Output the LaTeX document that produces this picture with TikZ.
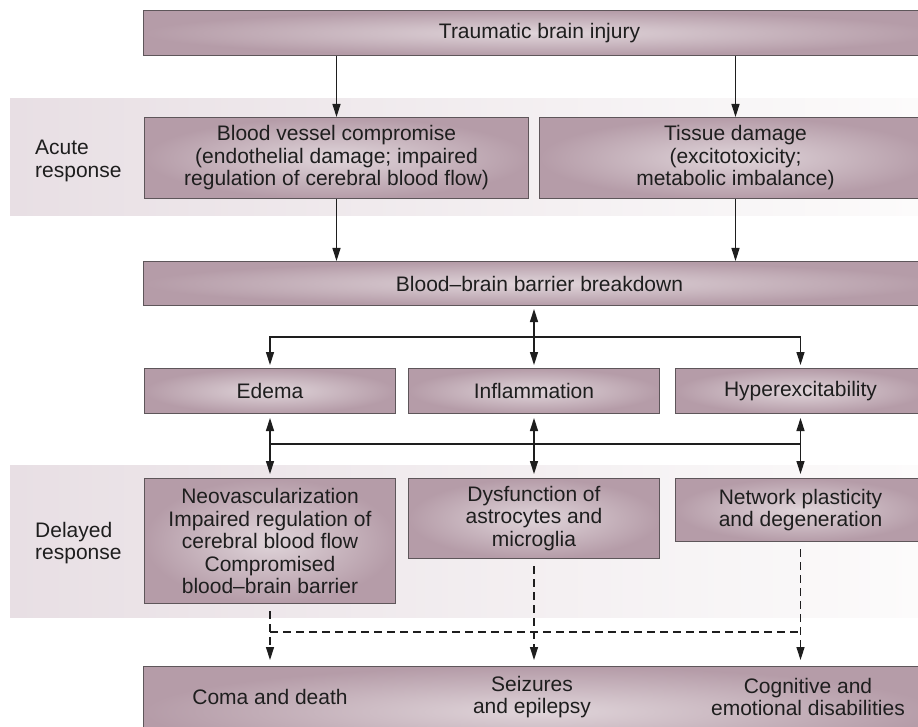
\documentclass[tikz,border=0pt]{standalone}
\usepackage{fontspec}
\setmainfont{Liberation Sans}
\usepackage{tikz}
\usetikzlibrary{arrows.meta}
\definecolor{boxin}{HTML}{E0D5DA}
\definecolor{boxout}{HTML}{B59CA8}
\definecolor{boxline}{HTML}{5E565A}
\definecolor{bandl}{HTML}{E8DFE4}
\definecolor{bandr}{HTML}{FCFBFB}
\definecolor{linec}{HTML}{1E1E1E}
\newcommand\fs{\fontsize{21}{22.5}\selectfont}

\begin{document}
\begin{tikzpicture}[x=1pt,y=-1pt]
      \tikzstyle{box}=[draw=boxline,line width=1pt,inner color=boxin,outer color=boxout,anchor=north west,inner sep=0pt,align=center,font=\fs,text=linec]
      \tikzstyle{lbl}=[anchor=west,align=left,inner sep=0pt,font=\fs,text=linec]
      \tikzstyle{txt}=[align=center,inner sep=0pt,font=\fs,text=linec]
      \tikzstyle{line}=[line width=1.4pt,draw=linec]
      \tikzstyle{arr}=[line,-{Triangle[length=13pt,width=8pt]}]
      \tikzstyle{dbl}=[line,{Triangle[length=13pt,width=8pt]}-{Triangle[length=13pt,width=8pt]},shorten <=4pt,shorten >=4pt]
      \tikzstyle{dsh}=[line,dash pattern=on 8pt off 5pt]

      \useasboundingbox (0,0) rectangle (918,727);
      \fill[white] (0,0) rectangle (918,727);

      \begin{scope}
        \shade[left color=bandl,right color=bandr] (10,99) rectangle (918,216);
        \shade[left color=bandl,right color=bandr] (10,465) rectangle (918,617);
        \node[lbl](acute) at (35,161) {Acute\\response};
        \node[lbl](delayed) at (35,543) {Delayed\\response};

        \node[box,minimum width=792pt,minimum height=45pt](tbi) at (143,10) {Traumatic brain injury};
        \node[box,minimum width=384pt,minimum height=81pt](bvc) at (144,117)
          {Blood vessel compromise\\(endothelial damage; impaired\\regulation of cerebral blood flow)};
        \node[box,minimum width=392pt,minimum height=81pt](tis) at (539,117)
          {Tissue damage\\(excitotoxicity;\\metabolic imbalance)};
        \node[box,minimum width=792pt,minimum height=44pt](bbb) at (143,261) {Blood--brain barrier breakdown};

        \node[box,minimum width=251pt,minimum height=45pt](ede) at (144,368) {Edema};
        \node[box,minimum width=251pt,minimum height=45pt](inf) at (408,368) {Inflammation};
        \node[box,minimum width=250pt,minimum height=45pt](hyp) at (675,368) {Hyperexcitability};

        \node[box,minimum width=251pt,minimum height=125pt](neo) at (144,478)
          {Neovascularization\\Impaired regulation of\\cerebral blood flow\\Compromised\\blood--brain barrier};
        \node[box,minimum width=251pt,minimum height=80pt](dys) at (408,478)
          {Dysfunction of\\astrocytes and\\microglia};
        \node[box,minimum width=250pt,minimum height=63pt](net) at (675,478)
          {Network plasticity\\and degeneration};

        \node[box,minimum width=792pt,minimum height=90pt](out) at (143,666) {};
        \node[txt](coma) at (270,697) {Coma and death};
        \node[txt](seiz) at (532,697) {Seizures\\and epilepsy};
        \node[txt](cogn) at (808,697) {Cognitive and\\emotional disabilities};

        \draw[arr] (tbi.south -| bvc.north) -- (bvc.north);
        \draw[arr] (tbi.south -| tis.north) -- (tis.north);
        \draw[arr] (bvc.south) -- (bvc.south |- bbb.north);
        \draw[arr] (tis.south) -- (tis.south |- bbb.north);

        \coordinate(j1) at (533.5,337);
        \draw[dbl,shorten <=3pt,shorten >=3pt] (bbb.south -| inf.north) -- (inf.north);
        \draw[arr,shorten >=3pt] (j1) -| (ede.north);
        \draw[arr,shorten >=3pt] (j1) -| (hyp.north);

        \coordinate(j2) at (533.5,444);
        \draw[line] (ede.south |- j2) -- (hyp.south |- j2);
        \draw[dbl] (ede.south) -- (neo.north);
        \draw[dbl] (inf.south) -- (dys.north);
        \draw[dbl] (hyp.south) -- (net.north);

        \coordinate(j3) at (533.5,632);
        \draw[dsh] (neo.south |- j3) -- (net.south |- j3);
        \draw[dsh,-{Triangle[length=13pt,width=8pt]},shorten <=7pt,shorten >=6pt] (neo.south) -- (neo.south |- out.north);
        \draw[dsh,-{Triangle[length=13pt,width=8pt]},shorten <=7pt,shorten >=6pt] (dys.south) -- (dys.south |- out.north);
        \draw[dsh,-{Triangle[length=13pt,width=8pt]},shorten <=7pt,shorten >=6pt] (net.south) -- (net.south |- out.north);
      \end{scope}
\end{tikzpicture}
\end{document}
